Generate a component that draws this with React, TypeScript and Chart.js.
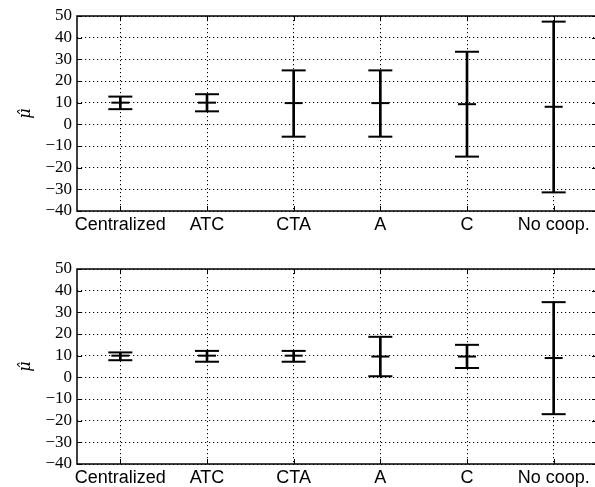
import React, { useEffect, useRef } from 'react';
import { Chart, registerables } from 'chart.js';

Chart.register(...registerables);

const categories = ['Centralized', 'ATC', 'CTA', 'A', 'C', 'No coop.'];

const yMin = -40;
const yMax = 50;
const yStep = 10;

const topMean = [10, 10, 9.8, 9.8, 9.3, 8.1];
const topLow = [7, 6, -5.7, -5.7, -14.9, -31.4];
const topHigh = [12.8, 13.9, 24.9, 24.9, 33.5, 47.4];

const bottomMean = [10, 10, 10, 9.6, 9.6, 8.9];
const bottomLow = [7.9, 7.2, 7.2, 0.5, 4.3, -17];
const bottomHigh = [11.5, 12.2, 12.2, 18.7, 15, 34.7];

const CW = 611;
const CH = 245;

const framePlugin = {
  id: 'frame',
  afterDraw(chart: any) {
    const { ctx, chartArea } = chart;
    const { left, right, top, bottom } = chartArea;
    const xs = chart.scales.x;
    const ys = chart.scales.y;
    ctx.save();
    ctx.setLineDash([]);
    ctx.strokeStyle = '#000';
    ctx.lineWidth = 1;
    const tl = 5;
    ctx.beginPath();
    xs.ticks.forEach((_: any, i: number) => {
      const px = Math.round(xs.getPixelForTick(i)) + 0.5;
      ctx.moveTo(px, bottom);
      ctx.lineTo(px, bottom - tl);
      ctx.moveTo(px, top);
      ctx.lineTo(px, top + tl);
    });
    ys.ticks.forEach((_: any, i: number) => {
      const py = Math.round(ys.getPixelForTick(i)) + 0.5;
      ctx.moveTo(left, py);
      ctx.lineTo(left + tl, py);
      ctx.moveTo(right, py);
      ctx.lineTo(right - tl, py);
    });
    ctx.stroke();
    ctx.lineWidth = 1.5;
    ctx.strokeRect(left, top, right - left, bottom - top);
    ctx.restore();
  },
};

function makeConfig(mean: number[], low: number[], high: number[]): any {
  const capStyle = {
    type: 'line',
    showLine: false,
    pointStyle: 'line',
    pointBorderWidth: 2,
    borderColor: '#000',
    pointBorderColor: '#000',
    order: 1,
  };
  return {
    type: 'bar',
    data: {
      labels: categories,
      datasets: [
        {
          type: 'bar',
          data: low.map((l, i) => [l, high[i]]),
          backgroundColor: '#000',
          borderWidth: 0,
          barThickness: 2,
          order: 3,
        },
        { ...capStyle, data: high, pointRadius: 12 },
        { ...capStyle, data: low, pointRadius: 12 },
        { ...capStyle, data: mean, pointRadius: 9 },
      ],
    },
    options: {
      animation: false,
      responsive: false,
      maintainAspectRatio: false,
      events: [],
      layout: { padding: { top: 16, left: 0, right: 4, bottom: 0 } },
      plugins: {
        legend: { display: false },
        tooltip: { enabled: false },
      },
      scales: {
        x: {
          offset: true,
          grid: {
            display: true,
            offset: false,
            color: '#000',
            lineWidth: 1,
            drawTicks: false,
          },
          border: { display: false, dash: [1.2, 2.8] },
          ticks: {
            color: '#000',
            font: { family: '"Liberation Sans", Arial, sans-serif', size: 18 },
            padding: 3,
            maxRotation: 0,
            minRotation: 0,
            autoSkip: false,
          },
          afterFit(scale: any) {
            scale.height = 34;
            scale.paddingLeft = 0;
            scale.paddingRight = 0;
          },
        },
        y: {
          min: yMin,
          max: yMax,
          grid: {
            color: '#000',
            lineWidth: 1,
            drawTicks: false,
          },
          border: { display: false, dash: [1.2, 2.8] },
          ticks: {
            stepSize: yStep,
            autoSkip: false,
            color: '#000',
            padding: 5,
            font: { family: '"Liberation Serif", "Times New Roman", serif', size: 17 },
            callback: (v: any) => (v < 0 ? '\u2212' + Math.abs(v) : String(v)),
          },
          title: {
            display: true,
            text: '\u03bc\u0302',
            color: '#000',
            font: { family: '"DejaVu Serif", serif', size: 16, style: 'italic' },
            padding: { top: 16, bottom: 0 },
          },
          afterFit(scale: any) {
            scale.width = 77;
            scale.paddingTop = 0;
            scale.paddingBottom = 0;
          },
        },
      },
    },
    plugins: [framePlugin],
  };
}

function ErrChart({ mean, low, high, top }: { mean: number[]; low: number[]; high: number[]; top: number }) {
  const ref = useRef<HTMLCanvasElement | null>(null);
  useEffect(() => {
    if (!ref.current) return;
    const chart = new Chart(ref.current, makeConfig(mean, low, high));
    return () => chart.destroy();
  }, [mean, low, high]);
  return (
    <canvas
      ref={ref}
      width={CW}
      height={CH}
      style={{ position: 'absolute', left: 0, top, width: CW, height: CH, display: 'block' }}
    />
  );
}

export default function App() {
  return (
    <div
      style={{
        position: 'fixed',
        left: 0,
        top: 0,
        width: 595,
        height: 487,
        overflow: 'hidden',
        background: '#fff',
      }}
    >
      <ErrChart mean={topMean} low={topLow} high={topHigh} top={0} />
      <ErrChart mean={bottomMean} low={bottomLow} high={bottomHigh} top={253} />
    </div>
  );
}
